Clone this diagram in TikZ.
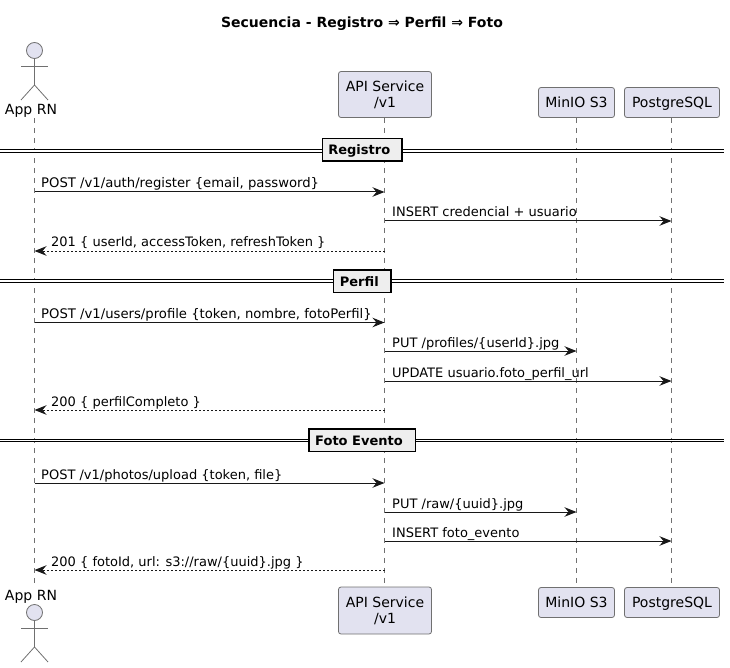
\documentclass[tikz,border=0pt]{standalone}
\usepackage{fontspec}
\setmainfont{DejaVu Sans}
\usetikzlibrary{arrows.meta}
\definecolor{partfill}{HTML}{E2E2F0}
\definecolor{partline}{HTML}{707070}
\definecolor{msgline}{HTML}{181818}
\definecolor{divfill}{HTML}{EEEEEE}
\tikzset{
  part/.style={draw=partline,fill=partfill,line width=0.8pt,rounded corners=2.5pt,align=center,inner sep=0pt,font=\fontsize{14}{16.5}\selectfont},
  oneline/.style={part,text height=12pt,text depth=2pt},
  actorlabel/.style={anchor=base,inner sep=0pt,text height=11pt,text depth=3pt,font=\fontsize{14}{16.5}\selectfont},
  life/.style={draw=partline,line width=0.8pt,dash pattern=on 5pt off 5pt},
  limb/.style={draw=partline,line width=0.8pt},
  head/.style={circle,draw=partline,fill=partfill,line width=0.8pt,minimum size=16pt,inner sep=0pt},
  msg/.style={draw=msgline,line width=1pt,-{Stealth[length=12pt,width=9.5pt,inset=4pt]}},
  reply/.style={msg,dash pattern=on 2pt off 2pt},
  lbl/.style={anchor=base west,inner sep=0pt,font=\fontsize{13}{15}\selectfont},
  lblwide/.style={lbl,font=\fontsize{13.2}{15}\selectfont},
  divline/.style={draw=black,line width=1pt,double=white,double distance=1.7pt},
  divbox/.style={draw=black,fill=divfill,line width=1.5pt,inner sep=0pt,minimum height=22.5pt,text height=12pt,text depth=2pt,font=\fontsize{13}{15}\selectfont\bfseries}
}
\begin{document}
\begin{tikzpicture}[x=1pt,y=-1pt]
\useasboundingbox (0,0) rectangle (730,668);
\node[anchor=base,inner sep=0pt,font=\fontsize{14}{16}\selectfont\bfseries] (title) at (362,28) {Secuencia - Registro ⇒ Perfil ⇒ Foto};

% participants, top row
\node[actorlabel] (appT) at (31,115) {App RN};
\node[part,minimum width=93pt,minimum height=46pt] (apiT) at (385,94.5) {\rule{0pt}{11.5pt}API Service\\/v1};
\node[oneline,minimum width=76pt,minimum height=30pt] (minioT) at (576.5,102.5) {MinIO S3};
\node[oneline,minimum width=95pt,minimum height=30pt] (pgT) at (672,102.5) {PostgreSQL};

% participants, bottom row
\node[actorlabel] (appB) at (31,600) {App RN};
\node[part,minimum width=93pt,minimum height=47pt] (apiB) at (385,610.5) {\rule{0pt}{11.5pt}API Service\\/v1};
\node[oneline,minimum width=76pt,minimum height=30pt] (minioB) at (576.5,602.5) {MinIO S3};
\node[oneline,minimum width=95pt,minimum height=30pt] (pgB) at (672,602.5) {PostgreSQL};

% actors
\node[head] (headT) at (34.5,50.5) {};
\draw[limb] (headT.south) -- (34.5,85) coordinate (hipT);
\draw[limb] (21,66) -- (48,66);
\draw[limb] (21,100) -- (hipT) -- (48,100);
\node[head] (headB) at (34.5,612.5) {};
\draw[limb] (headB.south) -- (34.5,647) coordinate (hipB);
\draw[limb] (21,628) -- (48,628);
\draw[limb] (21,662) -- (hipB) -- (48,662);

% lifelines
\draw[life] (headT |- appT.south) -- ([yshift=6pt]headT |- appB.north);
\draw[life] (384.5,0 |- apiT.south) -- ([yshift=4pt]384.5,0 |- apiB.north);
\draw[life] (minioT.south) -- ([yshift=4pt]minioB.north);
\draw[life] (671.5,0 |- pgT.south) -- ([yshift=4pt]671.5,0 |- pgB.north);

% Registro
\draw[divline] (0,151) -- (724,151);
\node[divbox,minimum width=79.5pt] (divA) at (362.3,150) {Registro\kern6pt};
\coordinate (m1) at (0,192);
\coordinate (m3) at (0,251);
\draw[msg] (headT |- m1) -- (384.5,192);
\node[lblwide] (t1) at (41,188) {POST /v1/auth/register \{email, password\}};
\draw[msg] (384.5,221) -- (671.5,221);
\node[lbl] (t2) at (392,217) {INSERT credencial + usuario};
\draw[reply] (384.5,251) -- (headT |- m3);
\node[lbl] (t3) at (51,247) {201 \{ userId, accessToken, refreshToken \}};

% Perfil
\draw[divline] (0,281) -- (724,281);
\node[divbox,minimum width=57.5pt] (divB) at (362.3,281) {Perfil\kern6pt};
\coordinate (m4) at (0,322.5);
\coordinate (m7) at (0,410);
\draw[msg] (headT |- m4) -- (384.5,322.5);
\node[lblwide] (t4) at (41,318.5) {POST /v1/users/profile \{token, nombre, fotoPerfil\}};
\draw[msg] (384.5,351) -- (minioT.south |- 0,351);
\node[lbl] (t5) at (392,347) {PUT /profiles/\{userId\}.jpg};
\draw[msg] (384.5,381) -- (671.5,381);
\node[lbl] (t6) at (392,377) {UPDATE usuario.foto\_perfil\_url};
\draw[reply] (384.5,410) -- (headT |- m7);
\node[lbl] (t7) at (51,406) {200 \{ perfilCompleto \}};

% Foto Evento
\draw[divline] (0,440.5) -- (724,440.5);
\node[divbox,minimum width=106.5pt] (divC) at (362,440) {Foto Evento\kern6pt};
\coordinate (m8) at (0,483);
\coordinate (m11) at (0,570);
\draw[msg] (headT |- m8) -- (384.5,483);
\node[lbl] (t8) at (41,479) {POST /v1/photos/upload \{token, file\}};
\draw[msg] (384.5,512) -- (minioT.south |- 0,512);
\node[lbl] (t9) at (392,508) {PUT /raw/\{uuid\}.jpg};
\draw[msg] (384.5,541) -- (671.5,541);
\node[lbl] (t10) at (392,537) {INSERT foto\_evento};
\draw[reply] (384.5,570) -- (headT |- m11);
\node[lbl] (t11) at (51,566) {200 \{ fotoId, url: s3://raw/\{uuid\}.jpg \}};
\end{tikzpicture}
\end{document}
